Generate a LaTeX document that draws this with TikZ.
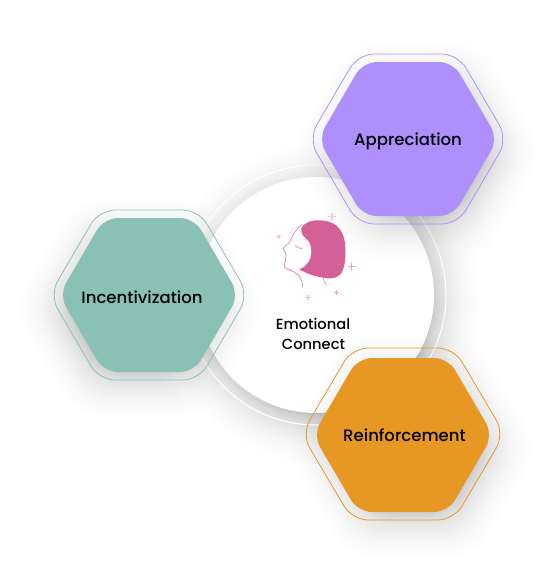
\documentclass[tikz,border=0pt]{standalone}
\usepackage{fontspec}
\setmainfont{Poppins Medium}
\newcommand{\hexp}[4]{({(#1)-(#3)},{#2}) -- ({(#1)-(#3)/2},{(#2)-(#4)}) -- ({(#1)+(#3)/2},{(#2)-(#4)}) -- ({(#1)+(#3)},{#2}) -- ({(#1)+(#3)/2},{(#2)+(#4)}) -- ({(#1)-(#3)/2},{(#2)+(#4)}) -- cycle}
% cx cy dx dy fill outerW outerH outerCy
\newcommand{\hexa}[8]{%
  \foreach \i in {1,...,30}{%
    \pgfmathsetmacro{\g}{-18+52*(\i/30)^1.5}%
    \pgfmathsetmacro{\op}{.016-.013*\i/30}%
    \fill[black,opacity=\op,rounded corners=18pt] \hexp{#1+#3}{#2+#4}{90+\g*1.15}{77+\g};
  }%
  \fill[#5,rounded corners=10.5pt] \hexp{#1}{#2}{90}{77};
  \draw[#5,line width=.6pt,rounded corners=12pt] \hexp{#1}{#8}{#6}{#7};
}
\definecolor{apcol}{HTML}{AF8FFB}
\definecolor{incol}{HTML}{8AC1B5}
\definecolor{recol}{HTML}{E79723}
\definecolor{hair}{HTML}{D36097}
\definecolor{hairlt}{HTML}{F5C6DA}
\definecolor{sheen}{HTML}{E67FAE}
\tikzset{hexlabel/.style={font=\fontsize{12.4pt}{15pt}\selectfont,text=black,inner sep=0pt},
  centerlabel/.style={font=\fontsize{11pt}{13pt}\selectfont,text=black,inner sep=0pt},
  faceline/.style={draw=sheen,line width=.5pt,line cap=round},
  facelt/.style={draw=hairlt,line width=.4pt,line cap=round},
  sparkthin/.style={draw=sheen!80,line width=.45pt},
  sparkthick/.style={draw=hairlt,line width=.9pt}}
\begin{document}
\begin{tikzpicture}[x=.75pt,y=-.75pt]
\useasboundingbox (0,0) rectangle (557,575);
\fill[white] (0,0) rectangle (557,575);
% central disc shadow
\foreach \i in {1,...,30}{
  \pgfmathsetmacro{\r}{107+54*(\i/30)^1.5}
  \pgfmathsetmacro{\op}{.017-.014*\i/30}
  \fill[black,opacity=\op] (321,304) circle[radius=\r];
}
\draw[white,line width=.8pt] (316,295) circle[radius=130];
\fill[white] (316,295) circle[radius=118];
% hexagons
\hexa{408}{139}{9}{13}{apcol}{99.5}{85}{139}
\hexa{149}{295}{-9}{13}{incol}{99.5}{85}{295}
\hexa{403}{435}{8}{13}{recol}{101.5}{86}{434}
\node[hexlabel] (appr) at (408,141) {Appreciation};
\node[hexlabel] (ince) at (142,297) {Incentivization};
\node[hexlabel] (rein) at (404.5,435) {Reinforcement};
% centre text
\node[centerlabel] (emo) at (313,323.5) {Emotional};
\node[centerlabel] (con) at (313.5,344.5) {Connect};
% head
\begin{scope}[shift={(272,208)},x=.25pt,y=-.25pt]
\fill[hair] (88,60) .. controls (100,40) and (125,35) .. (145,37)
  .. controls (185,38) and (212,60) .. (218,100)
  .. controls (222,130) and (222,160) .. (212,188)
  .. controls (203,208) and (185,214) .. (160,210)
  .. controls (130,206) and (105,198) .. (82,184)
  .. controls (105,175) and (118,155) .. (118,130)
  .. controls (118,112) and (112,98) .. (100,90)
  .. controls (92,84) and (86,72) .. (88,60) -- cycle;
\draw[faceline] (90,50) .. controls (72,62) and (62,80) .. (55,100)
  .. controls (48,110) and (36,115) .. (33,122)
  .. controls (36,130) and (44,134) .. (42,142)
  .. controls (40,150) and (44,152) .. (40,162)
  .. controls (32,175) and (38,180) .. (50,185)
  .. controls (70,192) and (92,205) .. (92,237);
\draw[faceline] (154,210) .. controls (156,220) and (158,226) .. (163,232);
\draw[faceline] (70,113) .. controls (76,120) and (82,122) .. (91,121);
\draw[facelt] (50,82) .. controls (56,70) and (66,60) .. (82,54);
\draw[facelt] (95,95) .. controls (102,92) and (112,100) .. (114,110) .. controls (114,118) and (100,115) .. (102,106);
\draw[facelt] (48,182) .. controls (62,186) and (76,194) .. (84,204);
% sparkles
\draw[sparkthick] (180,15) -- (180,37) (169,26) -- (191,26);
\draw[sparkthick] (108,261) -- (108,277) (100,269) -- (116,269);
\fill[hairlt] (20,86) circle[radius=6];
\draw[sparkthin] (238,165) -- (238,187) (227,176) -- (249,176);
\draw[sparkthin] (193,246) -- (193,260) (186,253) -- (200,253);
\end{scope}
\end{tikzpicture}
\end{document}
